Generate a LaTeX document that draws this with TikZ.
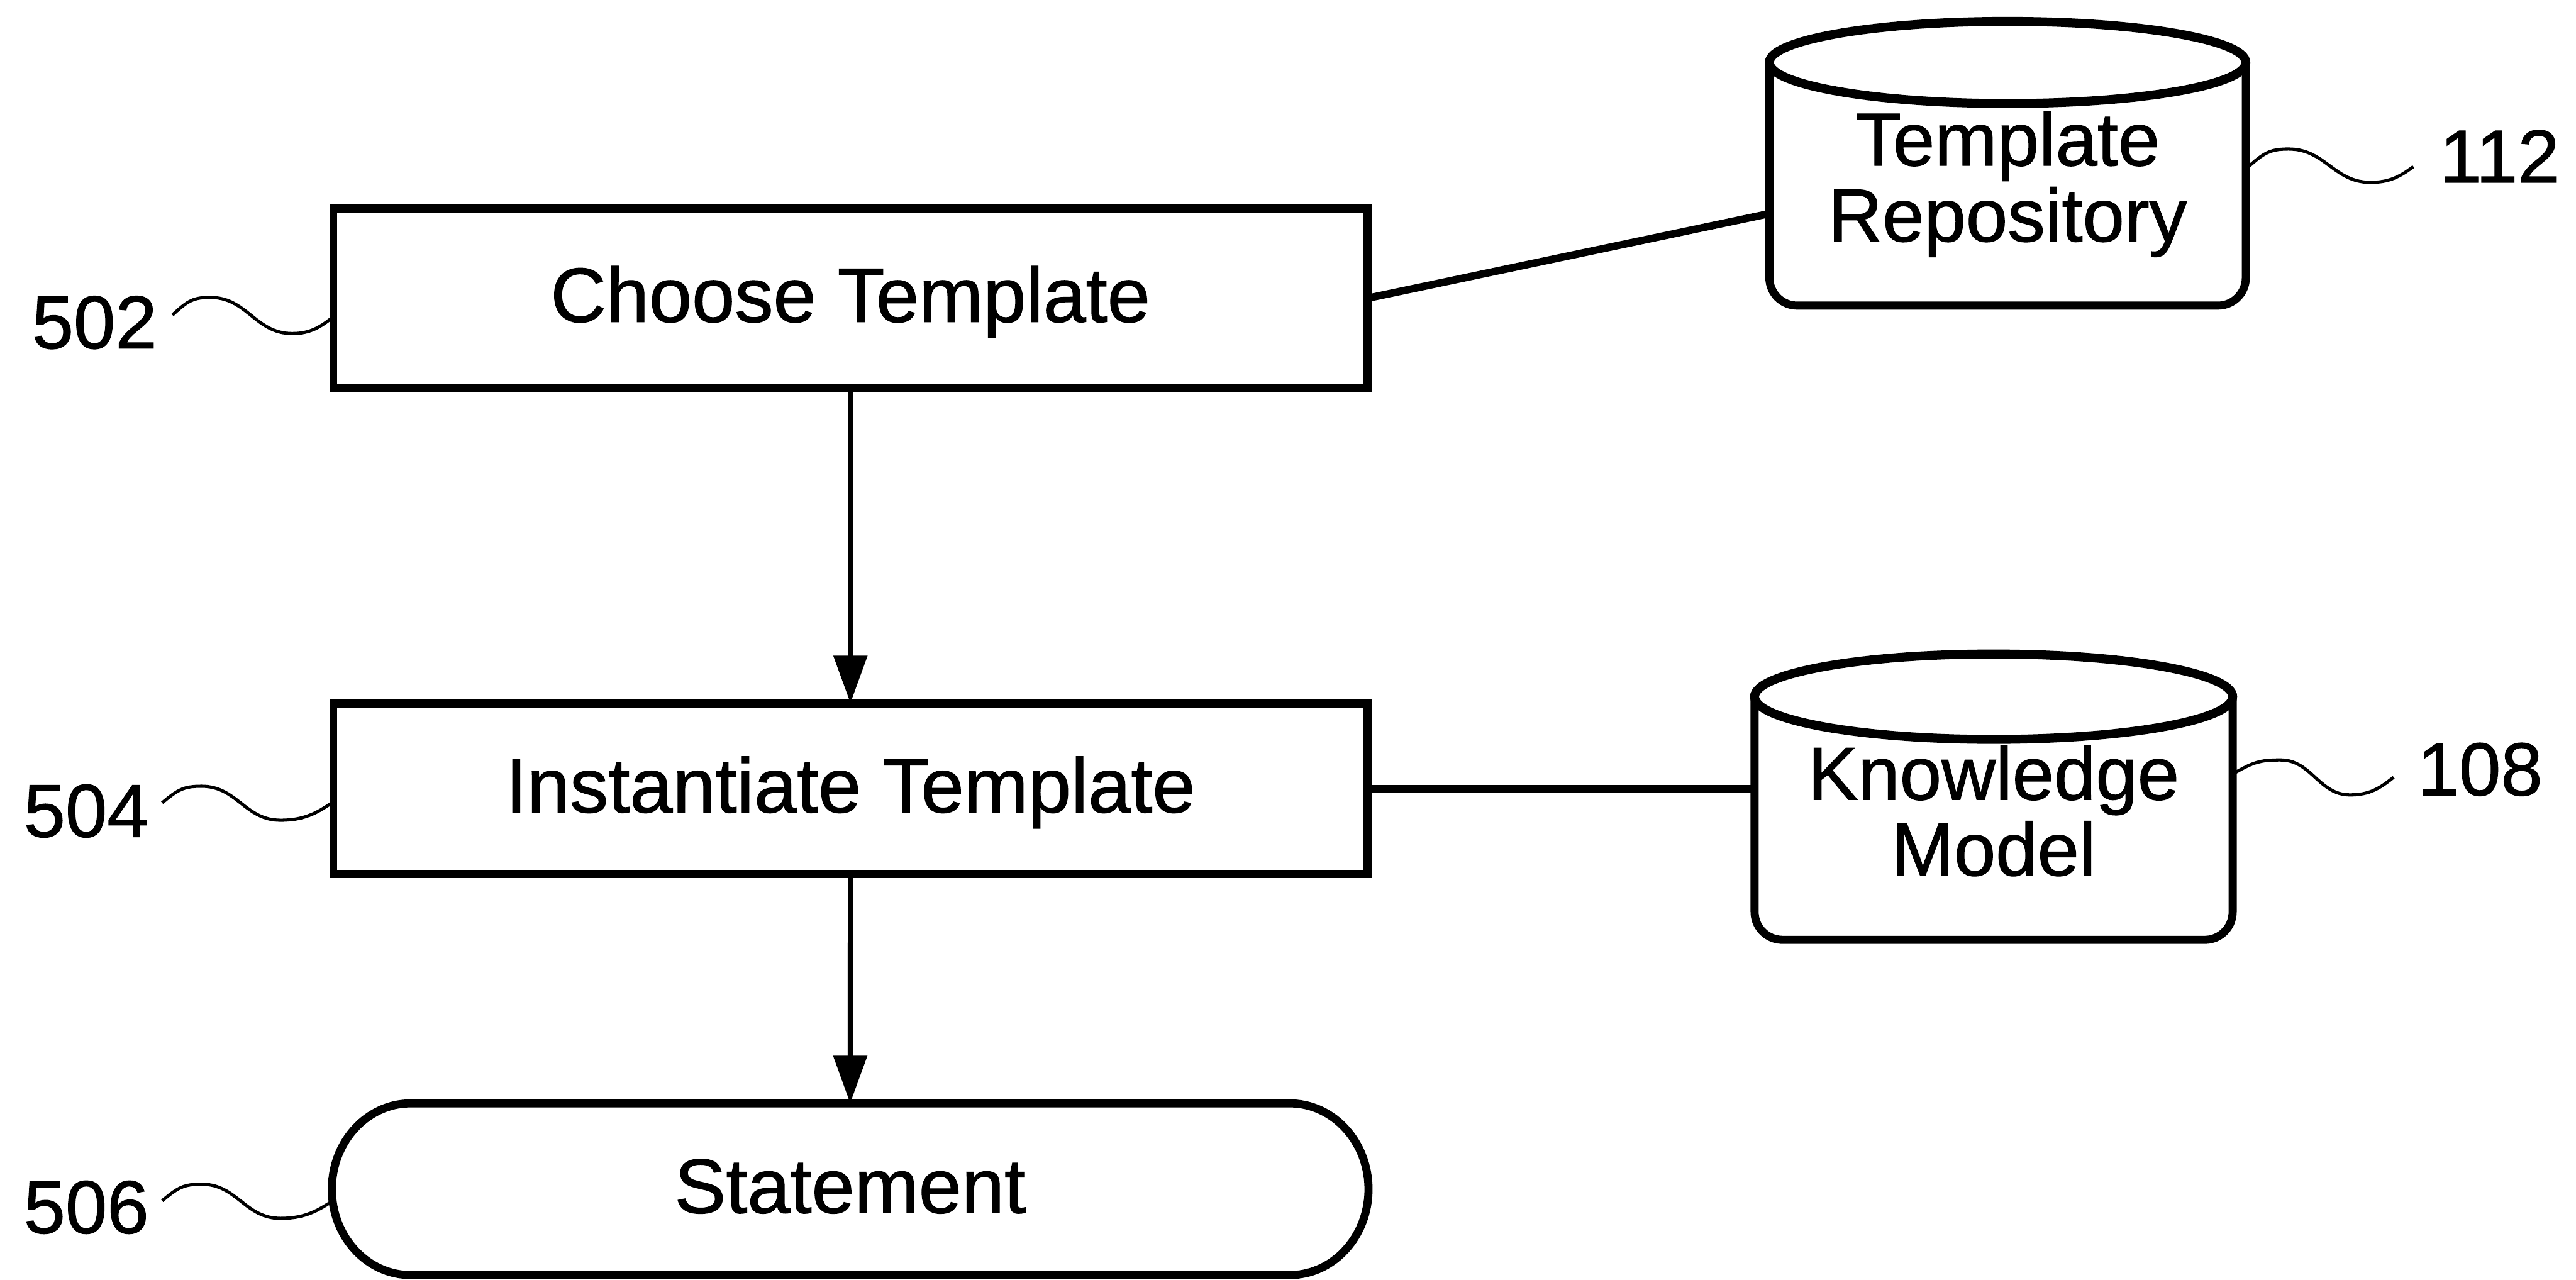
\documentclass[tikz,border=0pt]{standalone}
\usepackage{fontspec}
\setmainfont{Liberation Sans}[FakeBold=1.0]
\usetikzlibrary{arrows.meta}
\begin{document}
\begin{tikzpicture}[x=0.02cm,y=-0.02cm,
  every node/.style={font=\fontsize{26pt}{26.3pt}\selectfont, inner sep=0pt, outer sep=0pt},
  steptext/.style={font=\fontsize{26.7pt}{26.3pt}\selectfont, text height=19.1pt, text depth=2.7pt},
  stepbox/.style={steptext, draw, line width=2.8pt, minimum width=12.594cm},
  outline/.style={line width=2.8pt},
  capline/.style={line width=3.1pt},
  flow/.style={line width=1.8pt, -{Triangle[length=16.5pt,width=11.4pt]}},
  link/.style={line width=2.6pt},
  lead/.style={line width=1.1pt}]
\fill[white] (0,0) rectangle (1568,779);
\useasboundingbox (0,0) rectangle (1568,779);

% process steps
\node[stepbox, minimum height=2.18cm] (choose) at (517.65,181.5) {Choose Template};
\node[stepbox, minimum height=2.08cm] (inst) at (517.65,480) {Instantiate Template};
\node[steptext, minimum width=12.62cm, minimum height=2.09cm] (stmt) at (517.5,723.75) {Statement};
\draw[outline] (250,671.5) -- (785,671.5)
  .. controls (811.5,671.5) and (833,694.85) .. (833,723.75)
  .. controls (833,752.65) and (811.5,776) .. (785,776) -- (250,776)
  .. controls (223.5,776) and (202,752.65) .. (202,723.75)
  .. controls (202,694.85) and (223.5,671.5) .. (250,671.5) -- cycle;

% data stores
\node[align=center] (repo) at (1222,112) {Template\\Repository};
\draw[outline] (1077,38) -- (1077,169) .. controls (1077,178.4) and (1084.6,186) .. (1094,186)
  -- (1350,186) .. controls (1359.4,186) and (1367,178.4) .. (1367,169) -- (1367,38);
\draw[capline] (1222,38) ellipse [x radius=145, y radius=25];

\node[align=center] (km) at (1213.5,493.4) {Knowledge\\Model};
\draw[outline] (1068,424) -- (1068,555) .. controls (1068,564.4) and (1075.6,572) .. (1085,572)
  -- (1342,572) .. controls (1351.4,572) and (1359,564.4) .. (1359,555) -- (1359,424);
\draw[capline] (1213.5,424) ellipse [x radius=145.5, y radius=26];

% connectors
\coordinate (repoW) at (1077,130);
\coordinate (kmW) at (1068,480);
\draw[flow] (choose.south) -- (inst.north);
\draw[flow] (inst.south) -- (stmt.north);
\draw[link] (choose.east) -- (repoW);
\draw[link] (inst.east) -- (kmW);

% reference numerals
\node[anchor=base] (l502) at (57.5,212) {502};
\node[anchor=base] (l504) at (52.5,509.3) {504};
\node[anchor=base] (l506) at (52.5,750.5) {506};
\node[anchor=base] (l112) at (1521.5,111) {112};
\node[anchor=base] (l108) at (1509.5,484) {108};

\draw[lead] (105,191.7) .. controls (114.2,183.1) and (117.6,181) .. (128,181)
  .. controls (150.4,181) and (155.4,203) .. (177.8,203)
  .. controls (188.7,203) and (194.7,199.2) .. (202,193.5);
\draw[lead] (98.7,488.6) .. controls (108.3,480.5) and (111.9,478.5) .. (122.7,478.5)
  .. controls (144.3,478.5) and (149.1,499.2) .. (170.7,499.2)
  .. controls (184.8,499.2) and (192.6,495) .. (202,488.6);
\draw[lead] (98.7,730.8) .. controls (108.3,722.7) and (111.9,720.7) .. (122.7,720.7)
  .. controls (144.3,720.7) and (149.1,741.5) .. (170.7,741.5)
  .. controls (184.6,741.5) and (192.3,737.5) .. (201.5,731.5);
\draw[lead] (1368,102) .. controls (1378,93) and (1381.75,90.7) .. (1393,90.7)
  .. controls (1415.5,90.7) and (1420.5,111) .. (1443,111)
  .. controls (1454.7,111) and (1461.2,107.2) .. (1469,101.4);
\draw[lead] (1360,470.5) .. controls (1371.2,464.1) and (1375.4,462.5) .. (1388,462.5)
  .. controls (1407.1,462.5) and (1411.4,483.8) .. (1430.5,483.8)
  .. controls (1442.4,483.8) and (1449,479.5) .. (1457,473);
\end{tikzpicture}
\end{document}
